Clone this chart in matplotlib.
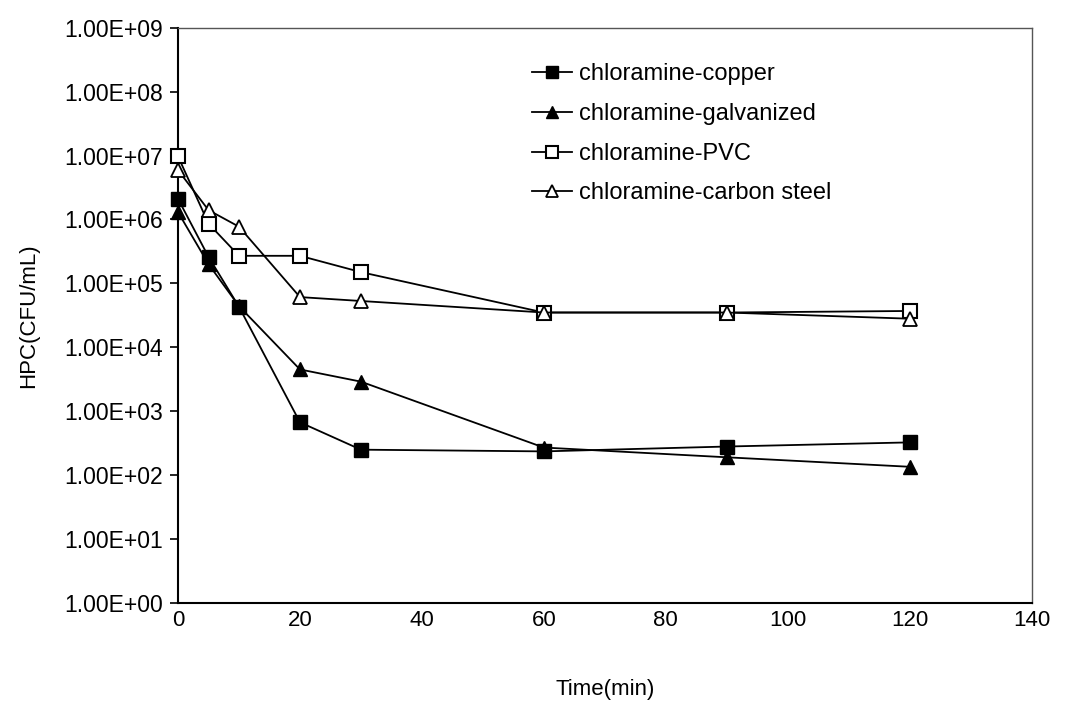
import matplotlib
matplotlib.use("Agg")
import matplotlib.pyplot as plt
from matplotlib.ticker import FixedLocator, FuncFormatter

plt.rcParams['font.family'] = ['Liberation Sans', 'DejaVu Sans']

time_min = [0, 5, 10, 20, 30, 60, 90, 120]
copper = [2.1e6, 2.6e5, 4.3e4, 670, 250, 235, 280, 325]
galvanized = [1.3e6, 2.0e5, 4.4e4, 4.5e3, 2.9e3, 270, 190, 135]
pvc = [9.7e6, 8.6e5, 2.7e5, 2.7e5, 1.5e5, 3.5e4, 3.5e4, 3.7e4]
carbon_steel = [5.9e6, 1.4e6, 7.7e5, 6.1e4, 5.3e4, 3.5e4, 3.5e4, 2.8e4]

labels = ['chloramine-copper', 'chloramine-galvanized', 'chloramine-PVC',
          'chloramine-carbon steel']

fig = plt.figure(figsize=(10.79, 7.11), dpi=100)
ax = fig.add_axes([0.165, 0.152, 0.791, 0.809])

common = dict(color='black', lw=1.3, ms=10, clip_on=False, zorder=3)
ax.plot(time_min, copper, marker='s', mfc='black', mec='black',
        label=labels[0], **common)
ax.plot(time_min, galvanized, marker='^', mfc='black', mec='black',
        label=labels[1], **common)
ax.plot(time_min, pvc, marker='s', mfc='white', mec='black', mew=1.5,
        label=labels[2], **common)
ax.plot(time_min, carbon_steel, marker='^', mfc='white', mec='black', mew=1.3,
        label=labels[3], **common)

ax.set_yscale('log')
ax.set_ylim(1, 1e9)
ax.set_xlim(0, 140)
ax.yaxis.set_major_locator(FixedLocator([10.0**k for k in range(0, 10)]))
ax.yaxis.set_minor_locator(FixedLocator([]))
ax.yaxis.set_major_formatter(FuncFormatter(lambda v, p: '%.2E' % v))
ax.set_xticks(range(0, 141, 20))

ax.tick_params(axis='y', direction='out', length=6, width=1.2, labelsize=16.5, pad=5)
ax.tick_params(axis='x', direction='out', length=0, labelsize=16, pad=5)

for s in ['left', 'bottom']:
    ax.spines[s].set_linewidth(1.5)
for s in ['top', 'right']:
    ax.spines[s].set_linewidth(1.0)
    ax.spines[s].set_color('#555555')

ax.set_ylabel('HPC(CFU/mL)', fontsize=16, labelpad=18)
ax.set_xlabel('Time(min)', fontsize=16, labelpad=35)

ax.legend(loc='upper left', bbox_to_anchor=(0.39, 0.975), frameon=False,
          fontsize=17, handlelength=1.7, handletextpad=0.3, labelspacing=0.75,
          markerscale=0.9)

fig.savefig('out.png', dpi=100)
